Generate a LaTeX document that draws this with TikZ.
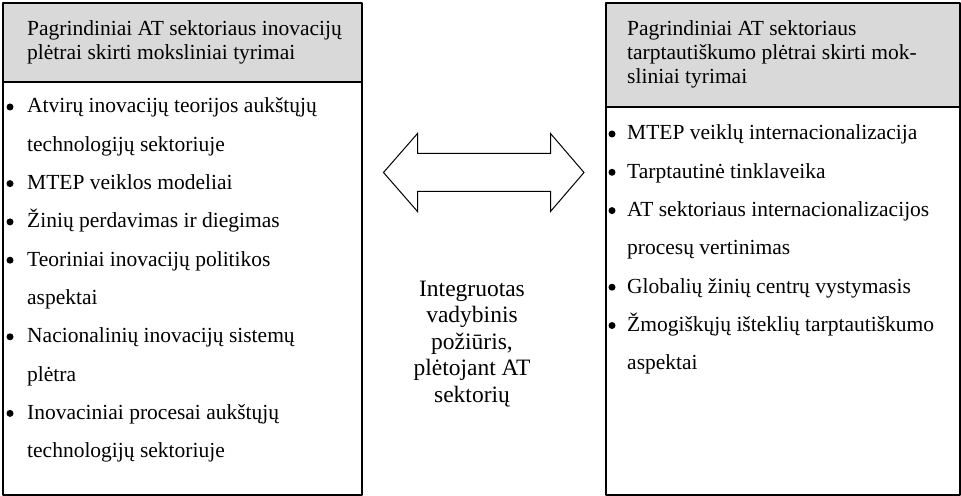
\documentclass[tikz,border=0pt]{standalone}
\usepackage{fontspec}
\setmainfont{Liberation Serif}
\definecolor{headgray}{HTML}{D9D9D9}
\begin{document}
\begin{tikzpicture}[>=latex,line join=bevel,
  panel/.style={draw=black,line width=1.2bp,inner sep=0pt},
  item/.style={draw=none,anchor=base west,inner sep=0pt,font=\fontsize{21.5bp}{24bp}\selectfont},
  bulletdot/.style={circle,fill=black,draw=none,inner sep=0pt,minimum size=7bp}]
\useasboundingbox (0bp,0bp) rectangle (961bp,496bp);
%%
\node (node_lbody) at (182.5bp,207.5bp) [panel,minimum width=359bp,minimum height=413bp] {};
  \node (node_lhead) at (182.5bp,453.5bp) [panel,fill=headgray,minimum width=359bp,minimum height=79bp] {};
  \node (node_rbody) at (783bp,195bp) [panel,minimum width=354bp,minimum height=388bp] {};
  \node (node_rhead) at (783bp,441bp) [panel,fill=headgray,minimum width=354bp,minimum height=104bp] {};
%
  \node (node_lh0) at (27bp,460bp) [item] {Pagrindiniai AT sektoriaus inovacijų};
  \node (node_lh1) at (27bp,436bp) [item] {plėtrai skirti moksliniai tyrimai};
  \node (node_rh0) at (627bp,460bp) [item] {Pagrindiniai AT sektoriaus};
  \node (node_rh1) at (627bp,436bp) [item] {tarptautiškumo plėtrai skirti mok-};
  \node (node_rh2) at (627bp,412bp) [item] {sliniai tyrimai};
%
  \node (node_l0) at (27bp,383bp) [item] {Atvirų inovacijų teorijos aukštųjų};
  \node (node_l1) at (27bp,344.7bp) [item] {technologijų sektoriuje};
  \node (node_l2) at (27bp,306.4bp) [item] {MTEP veiklos modeliai};
  \node (node_l3) at (27bp,268.1bp) [item] {Žinių perdavimas ir diegimas};
  \node (node_l4) at (27bp,229.8bp) [item] {Teoriniai inovacijų politikos};
  \node (node_l5) at (27bp,191.5bp) [item] {aspektai};
  \node (node_l6) at (27bp,153.2bp) [item] {Nacionalinių inovacijų sistemų};
  \node (node_l7) at (27bp,114.9bp) [item] {plėtra};
  \node (node_l8) at (27bp,76.6bp) [item] {Inovaciniai procesai aukštųjų};
  \node (node_l9) at (27bp,38.3bp) [item] {technologijų sektoriuje};
  \node (bullet_l0) at (10bp,389bp) [bulletdot] {};
  \node (bullet_l2) at (10bp,312.4bp) [bulletdot] {};
  \node (bullet_l3) at (10bp,274.1bp) [bulletdot] {};
  \node (bullet_l4) at (10bp,235.8bp) [bulletdot] {};
  \node (bullet_l6) at (10bp,159.2bp) [bulletdot] {};
  \node (bullet_l8) at (10bp,82.6bp) [bulletdot] {};
%
  \node (node_r0) at (627bp,356bp) [item] {MTEP veiklų internacionalizacija};
  \node (node_r1) at (627bp,317.7bp) [item] {Tarptautinė tinklaveika};
  \node (node_r2) at (627bp,279.4bp) [item] {AT sektoriaus internacionalizacijos};
  \node (node_r3) at (627bp,241.1bp) [item] {procesų vertinimas};
  \node (node_r4) at (627bp,202.8bp) [item] {Globalių žinių centrų vystymasis};
  \node (node_r5) at (627bp,164.5bp) [item] {Žmogiškųjų išteklių tarptautiškumo};
  \node (node_r6) at (627bp,126.2bp) [item] {aspektai};
  \node (bullet_r0) at (612bp,362bp) [bulletdot] {};
  \node (bullet_r1) at (612bp,323.7bp) [bulletdot] {};
  \node (bullet_r2) at (612bp,285.4bp) [bulletdot] {};
  \node (bullet_r4) at (612bp,208.8bp) [bulletdot] {};
  \node (bullet_r5) at (612bp,170.5bp) [bulletdot] {};
%
  \node (node_mid) at (472bp,152bp) [draw=none,align=center,font=\fontsize{23.5bp}{26.5bp}\selectfont] {Integruotas\\vadybinis\\požiūris,\\plėtojant AT\\sektorių};
  \draw [black,line width=1bp,line join=miter] (383.5bp,323.5bp) -- (417.5bp,362.5bp) -- (417.5bp,342.5bp) -- (550.5bp,342.5bp) -- (550.5bp,362.5bp) -- (584bp,323.5bp) -- (550.5bp,284.5bp) -- (550.5bp,304.5bp) -- (417.5bp,304.5bp) -- (417.5bp,284.5bp) -- cycle;
%
\end{tikzpicture}
\end{document}
